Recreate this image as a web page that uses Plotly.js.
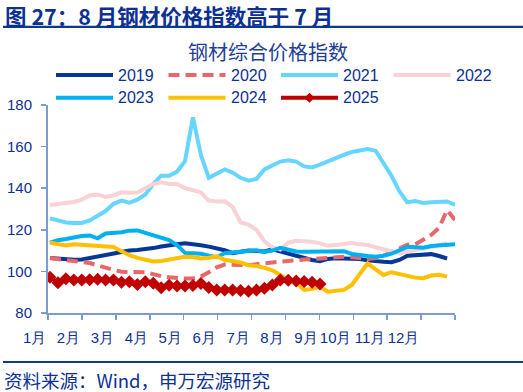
<!DOCTYPE html>
<html><head><meta charset="utf-8">
<script src="https://cdn.plot.ly/plotly-3.0.1.min.js"></script>
<style>html,body{margin:0;padding:0;background:#fff;} #chart{width:523px;height:392px;}</style>
</head><body><div id="chart"></div>
<script>
// ---- data ----
const seriesNames = ["2019", "2020", "2021", "2022", "2023", "2024", "2025"];
const v2019 = [106.4,106.1,105.8,105.6,105.7,106.5,107.3,107.9,108.5,109.2,110,110.3,110.6,111.2,112,112.7,113.1,113.5,113.2,112.6,111.9,111.2,110.2,108.8,109.2,110,109.8,109.6,110.6,109.5,108.5,107.4,106.5,105.5,104.9,106,106.3,106.3,106.2,106,105.3,104.8,104.6,104.4,105.5,107.5,107.8,107.9,108.3,107.4,106.2];
const v2020 = [106.4,106,105.7,105.2,104.5,104,102.8,101.5,100.7,99.8,99.8,99.7,99.6,98.7,97.7,97.2,96.8,96.6,96.6,97.5,99.6,102,103.3,103.2,103,103,103.5,104,104.3,104.7,105,105.5,105.7,106,106.3,106.8,107.1,107,106.8,106.3,106,106.4,107.5,109.3,111,112.8,113,115,117.5,121,129.5,124.7];
const v2021 = [125.5,124.5,123.5,123.3,123.3,124.5,126.5,129,132.5,134,133,134.5,137,142,146,146,148,153,174,156,145,147,149,147.5,145,143.6,144.5,149,151,152.8,153.4,152.8,150.5,150,151.3,153,154.5,156,157.4,158,158.8,158,152,146,138.5,133.2,133.8,132.9,133.3,133.6,133.6,132];
const v2022 = [131.9,132.5,133,133.4,134.5,136.5,137,135.8,136.5,138,137.8,137.9,140,142,142.8,142,142,140,139,138,134,133.6,133.7,131,123.5,122.5,120,114.5,111.5,110.5,113.8,114.7,114.5,114.3,113.5,112.4,112.7,113.2,113.6,113,112.7,111.6,110.5,109.2,108.6,109.5,110.2,110.8,111.7,112.8,113.6];
const v2023 = [113.8,115,115.6,116.4,117,117.3,115.9,118.2,118.3,118.8,119.6,119.7,118.5,117.3,116,115.1,112.7,108.9,108.7,108.5,107.6,106.8,108.7,109.1,109.6,110,110.2,109.4,110,111.3,110.5,109.6,109.4,109.4,109.3,109.5,109.5,109.7,108.4,107.8,107.4,107.1,107.5,108.5,110.3,111.8,111.6,111.4,112.2,112.6,112.8,113];
const v2024 = [113.8,113,112.5,113.1,112.8,112.5,112.3,112.2,111.7,109.7,107.8,106.5,105.5,104.8,105,105.7,106.6,107,106.9,106.2,106.6,107.2,105.6,104.8,104.3,103,102.6,101.7,100.5,98.3,96,94.6,91.1,91.6,92.5,90.2,90.8,91.1,93.5,99,103.9,101,98.3,99.6,98.7,97.5,97,96.7,98,98.4,97.5];
const v2025 = [97.2,94.6,96.5,95.9,95.9,96,96.2,95.9,95.9,94.8,95,93.7,95,94.3,92.1,93.4,93,93,93.2,94.2,92.2,91.1,91.1,91.1,90.8,90.4,91,91.9,93.5,95.9,95.8,95.4,95.1,94.8,94];
const monthLabels = ["1月","2月","3月","4月","5月","6月","7月","8月","9月","10月","11月","12月"];
const yTicks = [80, 100, 120, 140, 160, 180];
const chartTitle = "钢材综合价格指数";
const figTitle = "图 27：8 月钢材价格指数高于 7 月";
const sourceNote = "资料来源：Wind，申万宏源研究";

// ---- styles ----
const seriesValues = [v2019, v2020, v2021, v2022, v2023, v2024, v2025];
const colors = ["#053797", "#e8686a", "#66d6ff", "#f8d2d4", "#00b0f0", "#ffc000", "#c00000"];
const dashes = ["solid", "11px,6px", "solid", "solid", "solid", "solid", "solid"];
const navy = "#0c3192";
const axisColor = "#7b9bd1";
const W = 523, H = 392, L = 48, R = 455, T = 105, B = 313;
const px = x => (x - L) / (R - L);
const py = y => (B - y) / (B - T);
const x0 = 0.748, x1 = 52.0;

const traces = seriesValues.map((vals, s) => {
  const tr = {
    type: "scatter",
    x: vals.map((_, i) => i + 1),
    y: vals,
    name: seriesNames[s],
    mode: s === 6 ? "lines+markers" : "lines",
    line: { color: colors[s], width: 4, dash: dashes[s] },
    showlegend: false,
    hoverinfo: "skip"
  };
  if (s === 6) tr.marker = { symbol: "diamond", size: 10, color: colors[s] };
  return tr;
});

const tickvals = [];
for (let k = 0; k <= 12; k++) {
  let v = x0 + k * (x1 - x0) / 12;
  if (k === 0) v += 1e-6;
  if (k === 12) v -= 1e-6;
  tickvals.push(v);
}
const ticktext = monthLabels.concat([""]);

const shapes = [];
const annotations = [];
// header
annotations.push({ xref: "paper", yref: "paper", x: px(4), y: py(15), xanchor: "left", yanchor: "middle",
  text: "<b>" + figTitle + "</b>", showarrow: false, borderpad: 0,
  font: { family: "Noto Sans CJK SC", size: 21.5, color: navy } });
shapes.push({ type: "line", xref: "paper", yref: "paper", x0: px(3), x1: px(523), y0: py(26.8), y1: py(26.8),
  line: { color: "#0b3a94", width: 2.2 } });
// footer
shapes.push({ type: "line", xref: "paper", yref: "paper", x0: px(3), x1: px(523), y0: py(362), y1: py(362),
  line: { color: "#0b3a94", width: 2 } });
annotations.push({ xref: "paper", yref: "paper", x: px(3), y: py(379.5), xanchor: "left", yanchor: "middle",
  text: sourceNote, showarrow: false, borderpad: 0,
  font: { family: "Noto Sans CJK SC", size: 18.5, color: navy } });
// chart title
annotations.push({ xref: "paper", yref: "paper", x: px(268), y: py(51), xanchor: "center", yanchor: "middle",
  text: chartTitle, showarrow: false,
  font: { family: "Noto Sans CJK SC", size: 20, color: "#1f3f97" } });
// legend
seriesNames.forEach((nm, s) => {
  const col = s % 4, row = Math.floor(s / 4);
  const sx = 56 + col * 112.5, sy = 75 + row * 22.7;
  shapes.push({ type: "line", xref: "paper", yref: "paper", x0: px(sx), x1: px(sx + 57), y0: py(sy), y1: py(sy),
    line: { color: colors[s], width: 4, dash: dashes[s] } });
  if (s === 6) {
    const cx = sx + 28.5, h = 5;
    shapes.push({ type: "path", xref: "paper", yref: "paper",
      path: `M ${px(cx - h)} ${py(sy)} L ${px(cx)} ${py(sy - h)} L ${px(cx + h)} ${py(sy)} L ${px(cx)} ${py(sy + h)} Z`,
      fillcolor: colors[s], line: { color: colors[s], width: 0 } });
  }
  annotations.push({ xref: "paper", yref: "paper", x: px(sx + 60), y: py(sy), xanchor: "left", yanchor: "middle",
    text: nm, showarrow: false, font: { family: "Liberation Sans, Arial", size: 16, color: navy } });
});

const layout = {
  width: W, height: H,
  margin: { l: L, r: W - R, t: T, b: H - B, pad: 0 },
  paper_bgcolor: "#ffffff", plot_bgcolor: "#ffffff",
  showlegend: false,
  hovermode: false,
  font: { family: "Liberation Sans, Arial", color: navy },
  xaxis: {
    range: [x0, x1], showgrid: false, zeroline: false,
    showline: true, linecolor: axisColor, linewidth: 2,
    ticks: "outside", ticklen: 5, tickcolor: axisColor, tickwidth: 1.5,
    tickmode: "array", tickvals: tickvals, ticktext: ticktext,
    ticklabelposition: "outside left",
    tickangle: 0,
    ticklabelstandoff: 10,
    tickfont: { family: "Liberation Sans, Arial", size: 15, color: navy }
  },
  yaxis: {
    range: [80, 180], showgrid: false, zeroline: false,
    showline: true, linecolor: axisColor, linewidth: 2,
    ticks: "outside", ticklen: 5, tickcolor: axisColor, tickwidth: 1.5,
    tickmode: "array", tickvals: yTicks, ticktext: yTicks.map(String),
    ticklabelstandoff: 6,
    tickfont: { family: "Liberation Sans, Arial", size: 15, color: navy }
  },
  shapes: shapes,
  annotations: annotations
};

Plotly.newPlot("chart", traces, layout, { staticPlot: true, displayModeBar: false });
</script>
</body></html>
